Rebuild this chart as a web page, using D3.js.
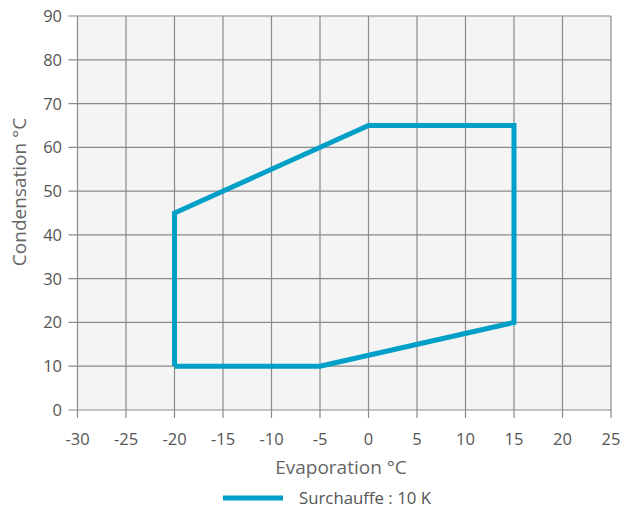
<!DOCTYPE html>
<html>
<head>
<meta charset="utf-8">
<script src="https://cdn.jsdelivr.net/npm/d3@7"></script>
<style>
  html, body { margin: 0; padding: 0; background: #fff; }
  text { font-family: "Open Sans", "Noto Sans", sans-serif; }
</style>
</head>
<body>
<svg id="chart" width="620" height="511"></svg>
<script>
// Operating envelope (evaporation °C, condensation °C)
const evaporation  = [-20, -5, 15, 15, 0, -20, -20];
const condensation = [10, 10, 20, 65, 65, 45, 10];
const xTicks = [-30, -25, -20, -15, -10, -5, 0, 5, 10, 15, 20, 25];
const yTicks = [0, 10, 20, 30, 40, 50, 60, 70, 80, 90];
const seriesName = "Surchauffe : 10 K";

const svg = d3.select("#chart");
const plotL = 77.5, plotR = 611, plotT = 16, plotB = 410;

const x = d3.scaleLinear().domain([-30, 25]).range([plotL, plotR]);
const y = d3.scaleLinear().domain([0, 90]).range([plotB, plotT]);

// plot background
svg.append("rect")
  .attr("x", plotL).attr("y", plotT)
  .attr("width", plotR - plotL).attr("height", plotB - plotT)
  .attr("fill", "#f4f4f4");

// grid
const grid = svg.append("g").attr("stroke", "#8a8a8a").attr("stroke-width", 1.2);
grid.selectAll(".vx").data(xTicks).join("line")
  .attr("x1", d => x(d)).attr("x2", d => x(d))
  .attr("y1", plotT).attr("y2", plotB + 8);
grid.selectAll(".hy").data(yTicks).join("line")
  .attr("x1", plotL - 9).attr("x2", plotR)
  .attr("y1", d => y(d)).attr("y2", d => y(d));

// tick labels
svg.append("g").selectAll("text").data(xTicks).join("text")
  .attr("x", d => x(d)).attr("y", 445)
  .attr("text-anchor", "middle")
  .attr("font-size", 16.5).attr("fill", "#555")
  .text(d => d);
svg.append("g").selectAll("text").data(yTicks).join("text")
  .attr("x", 62).attr("y", d => y(d) + 6)
  .attr("text-anchor", "end")
  .attr("font-size", 16.5).attr("fill", "#555")
  .text(d => d);

// axis titles
svg.append("text")
  .attr("x", 341).attr("y", 474)
  .attr("text-anchor", "middle")
  .attr("font-size", 19).attr("fill", "#666")
  .text("Evaporation °C");
svg.append("text")
  .attr("transform", "translate(26,192) rotate(-90)")
  .attr("text-anchor", "middle")
  .attr("font-size", 19).attr("fill", "#666")
  .text("Condensation °C");

// envelope
const pts = evaporation.map((e, i) => [e, condensation[i]]);
svg.append("path")
  .attr("d", d3.line().x(d => x(d[0])).y(d => y(d[1]))(pts))
  .attr("fill", "none")
  .attr("stroke", "#009fc8")
  .attr("stroke-width", 5)
  .attr("stroke-linejoin", "miter");

// legend
svg.append("line")
  .attr("x1", 223).attr("x2", 283).attr("y1", 498).attr("y2", 498)
  .attr("stroke", "#009fc8").attr("stroke-width", 5);
svg.append("text")
  .attr("x", 299).attr("y", 504)
  .attr("font-size", 16.8).attr("fill", "#555")
  .text(seriesName);
</script>
</body>
</html>
